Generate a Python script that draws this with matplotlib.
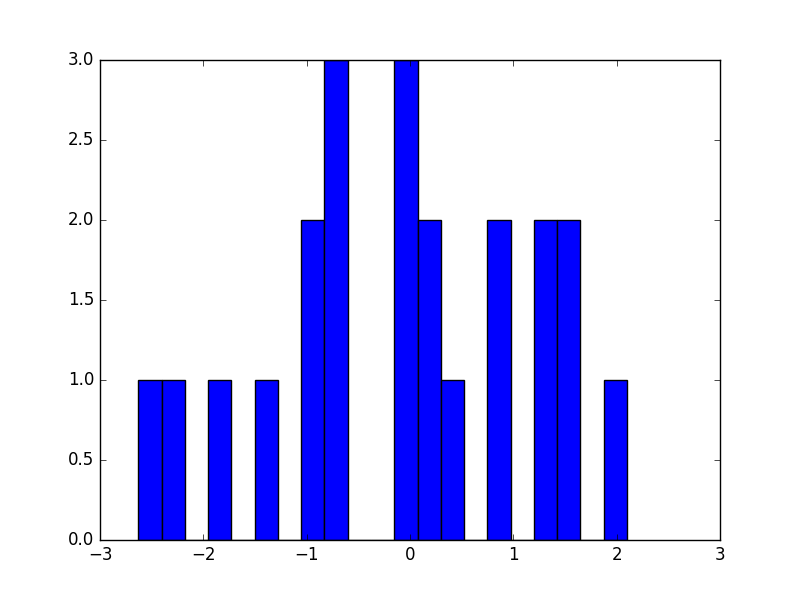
import numpy as np
import matplotlib
matplotlib.use("Agg")
import matplotlib.pyplot as plt

plt.style.use("classic")

# Histogram
bin_min = -2.63
bin_max = 2.10
counts = [1, 1, 0, 1, 0, 1, 0, 2, 3, 0, 0, 3, 2, 1, 0, 2, 0, 2, 2, 0, 1]

edges = np.linspace(bin_min, bin_max, len(counts) + 1)
centers = (edges[:-1] + edges[1:]) / 2

fig, ax = plt.subplots(figsize=(8, 6), dpi=100)
ax.hist(centers, bins=edges, weights=counts, color="blue", edgecolor="black")
ax.set_xlim(-3, 3)
ax.set_ylim(0, 3)
fig.savefig("out.png", dpi=100, facecolor="white")
